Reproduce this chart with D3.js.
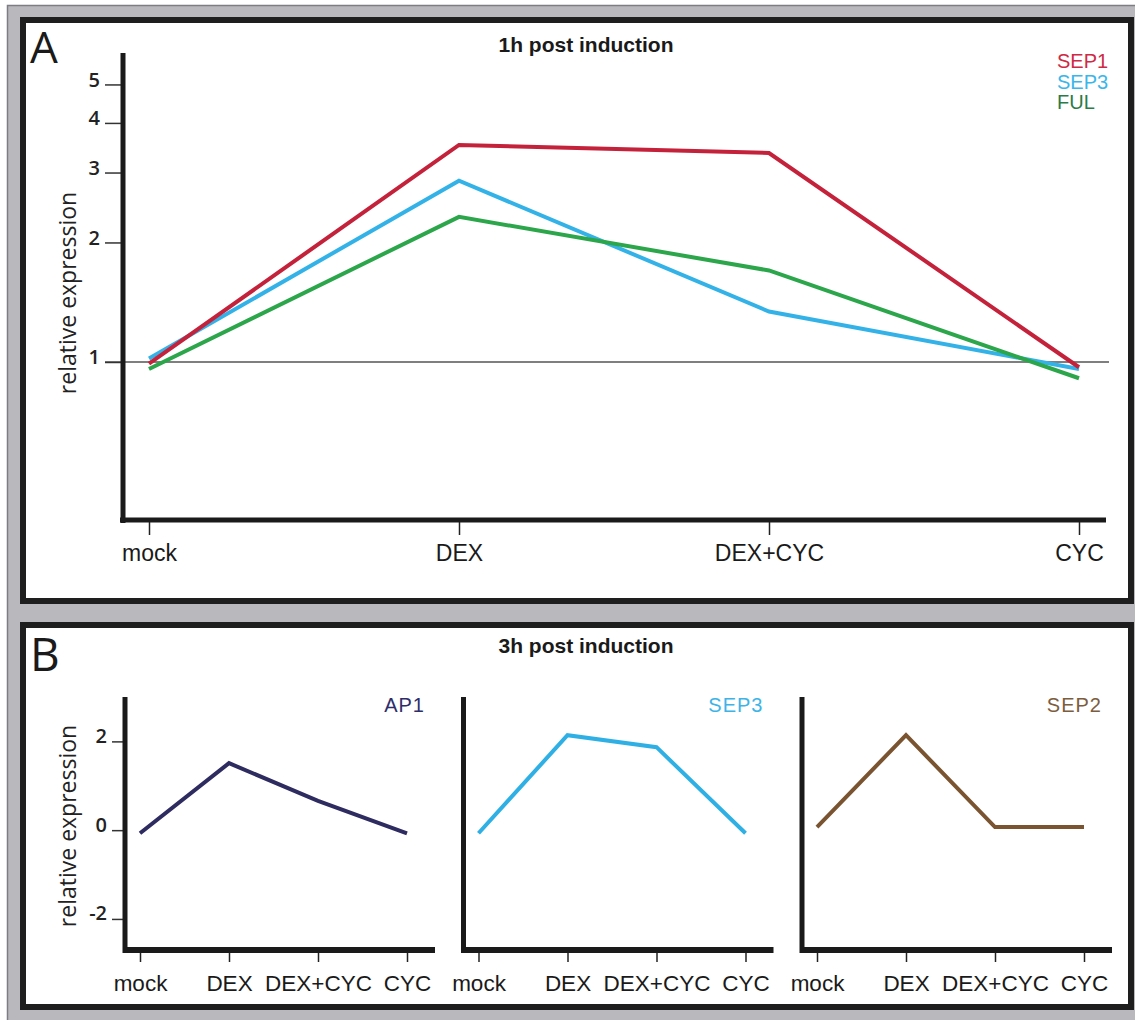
<!DOCTYPE html>
<html>
<head>
<meta charset="utf-8">
<script src="https://cdn.jsdelivr.net/npm/d3@7"></script>
<style>
  body { margin: 0; background: #fff; }
  svg { display: block; }
</style>
</head>
<body>
<svg id="chart"></svg>
<script>
// Data
const conditions = ['mock', 'DEX', 'DEX+CYC', 'CYC'];

// Panel A: 1h post induction (log scale)
const genes1h = ['SEP1', 'SEP3', 'FUL'];
const sep1_1h = [0.99, 3.52, 3.36, 0.97];
const sep3_1h = [1.02, 2.86, 1.34, 0.96];
const ful_1h  = [0.96, 2.32, 1.70, 0.91];
const ticks1h = [1, 2, 3, 4, 5];

// Panel B: 3h post induction
const genes3h = ['AP1', 'SEP3', 'SEP2'];
const ap1_3h  = [-0.07, 1.51, 0.66, -0.07];
const sep3_3h = [-0.07, 2.14, 1.87, -0.07];
const sep2_3h = [0.07, 2.14, 0.07, 0.07];
const ticks3h = [-2, 0, 2];

const colors1h = { SEP1: '#c4213a', SEP3: '#33b2e8', FUL: '#2ca64a' };
const legendColors = { SEP1: '#cf2a44', SEP3: '#3ab6ea', FUL: '#2b7b46' };
const colors3h = { AP1: '#2d2b5f', SEP3: '#2fb0e5', SEP2: '#7a5430' };
const labelColors3h = { AP1: '#2e2d6a', SEP3: '#3cb4e8', SEP2: '#7d5d3e' };

const W = 1135, H = 1020;
const svg = d3.select('#chart').attr('width', W).attr('height', H);

const sans = 'Liberation Sans, Arial, sans-serif';
const myriad = '"Open Sans", "Noto Sans", sans-serif';
const plain = d => String(d);

// Background frame
svg.append('rect')
  .attr('x', 7.5).attr('y', 5.5).attr('width', W).attr('height', H)
  .attr('fill', '#b9b9bd').attr('stroke', '#7e7e82').attr('stroke-width', 1.5);

// Panel boxes
svg.append('rect')
  .attr('x', 23).attr('y', 20).attr('width', 1108).attr('height', 581)
  .attr('fill', '#fff').attr('stroke', '#1e1e1e').attr('stroke-width', 6);
svg.append('rect')
  .attr('x', 23).attr('y', 625).attr('width', 1108).attr('height', 382)
  .attr('fill', '#fff').attr('stroke', '#1e1e1e').attr('stroke-width', 6);

// ═══════════════════════════════════════════════════════════
// Panel A
// ═══════════════════════════════════════════════════════════
const gA = svg.append('g');

gA.append('text')
  .attr('x', 30).attr('y', 63)
  .attr('font-family', myriad).attr('font-size', 44)
  .attr('fill', '#1a1a1a').text('A');

gA.append('text')
  .attr('x', 586).attr('y', 52).attr('text-anchor', 'middle')
  .attr('font-family', sans).attr('font-weight', 'bold').attr('font-size', 21)
  .attr('fill', '#1a1a1a').text('1h post induction');

const xA = d3.scalePoint().domain(conditions).range([149, 1079]);
const yA = d3.scaleLog().domain([0.4, 6]).range([520, 53]);

// reference line at 1
gA.append('line')
  .attr('x1', 105).attr('x2', 1109)
  .attr('y1', yA(1)).attr('y2', yA(1))
  .attr('stroke', '#555').attr('stroke-width', 1.5);

// y ticks
gA.append('g').attr('transform', 'translate(121,0)')
  .call(d3.axisLeft(yA).tickValues(ticks1h).tickFormat(plain).tickSize(16).tickPadding(5))
  .call(ax => ax.select('.domain').remove())
  .call(ax => ax.selectAll('line').attr('stroke', '#333').attr('stroke-width', 1.5))
  .call(ax => ax.selectAll('text')
    .attr('font-family', myriad).attr('font-weight', 600).attr('font-size', 20)
    .attr('fill', '#222').attr('dy', '0.1em'));

// x ticks
gA.append('g').attr('transform', 'translate(0,522)')
  .call(d3.axisBottom(xA).tickSize(13).tickPadding(10))
  .call(ax => ax.select('.domain').remove())
  .call(ax => ax.selectAll('line').attr('stroke', '#222').attr('stroke-width', 1.5))
  .call(ax => ax.selectAll('text')
    .attr('font-family', sans).attr('font-size', 23).attr('fill', '#1a1a1a'));

// axes
gA.append('line').attr('x1', 123).attr('x2', 123).attr('y1', 53).attr('y2', 523)
  .attr('stroke', '#1a1a1a').attr('stroke-width', 5);
gA.append('line').attr('x1', 120).attr('x2', 1106).attr('y1', 520).attr('y2', 520)
  .attr('stroke', '#1a1a1a').attr('stroke-width', 5);

gA.append('text')
  .attr('transform', 'translate(76,293) rotate(-90)')
  .attr('text-anchor', 'middle')
  .attr('font-family', myriad).attr('font-size', 23).attr('fill', '#222')
  .text('relative expression');

const series1h = [
  { gene: 'SEP3', values: sep3_1h },
  { gene: 'FUL', values: ful_1h },
  { gene: 'SEP1', values: sep1_1h }
];
const lineA = d3.line().x((d, i) => xA(conditions[i])).y(d => yA(d));
gA.selectAll('path.series')
  .data(series1h)
  .join('path')
  .attr('class', 'series')
  .attr('d', s => lineA(s.values))
  .attr('fill', 'none')
  .attr('stroke', s => colors1h[s.gene])
  .attr('stroke-width', 4);

// legend
gA.selectAll('text.legend')
  .data(genes1h)
  .join('text')
  .attr('class', 'legend')
  .attr('x', 1057).attr('y', (d, i) => 68 + i * 20.5)
  .attr('font-family', sans).attr('font-size', 20)
  .attr('fill', d => legendColors[d])
  .text(d => d);

// ═══════════════════════════════════════════════════════════
// Panel B
// ═══════════════════════════════════════════════════════════
const gB = svg.append('g');

gB.append('text')
  .attr('x', 30).attr('y', 671)
  .attr('font-family', myriad).attr('font-size', 46)
  .attr('fill', '#1a1a1a').text('B');

gB.append('text')
  .attr('x', 586).attr('y', 653).attr('text-anchor', 'middle')
  .attr('font-family', sans).attr('font-weight', 'bold').attr('font-size', 21)
  .attr('fill', '#1a1a1a').text('3h post induction');

const yB = d3.scaleLinear().domain([-2.7, 3]).range([950, 697]);
const panelX = d3.scaleLinear().domain([0, 2]).range([125, 802]);
const series3h = [
  { gene: 'AP1', values: ap1_3h },
  { gene: 'SEP3', values: sep3_3h },
  { gene: 'SEP2', values: sep2_3h }
];

series3h.forEach((s, i) => {
  const x0 = panelX(i);
  const g = gB.append('g');
  const xB = d3.scalePoint().domain(conditions).range([x0 + 15, x0 + 282]);

  if (i === 0) {
    g.append('g').attr('transform', `translate(${x0 - 2},0)`)
      .call(d3.axisLeft(yB).tickValues(ticks3h).tickFormat(plain).tickSize(11).tickPadding(5))
      .call(ax => ax.select('.domain').remove())
      .call(ax => ax.selectAll('line').attr('stroke', '#333').attr('stroke-width', 1.5))
      .call(ax => ax.selectAll('text')
        .attr('font-family', myriad).attr('font-weight', 600).attr('font-size', 20)
        .attr('fill', '#222').attr('dy', '0.05em'));

    g.append('text')
      .attr('transform', 'translate(76,826) rotate(-90)')
      .attr('text-anchor', 'middle')
      .attr('font-family', myriad).attr('font-size', 23).attr('fill', '#222')
      .text('relative expression');
  }

  g.append('g').attr('transform', 'translate(0,952)')
    .call(d3.axisBottom(xB).tickSize(10).tickPadding(13))
    .call(ax => ax.select('.domain').remove())
    .call(ax => ax.selectAll('line').attr('stroke', '#222').attr('stroke-width', 1.5))
    .call(ax => ax.selectAll('text')
      .attr('font-family', sans).attr('font-size', 22.5).attr('fill', '#1a1a1a'));

  g.append('line').attr('x1', x0).attr('x2', x0).attr('y1', 697).attr('y2', 953)
    .attr('stroke', '#1a1a1a').attr('stroke-width', 5);
  g.append('line').attr('x1', x0 - 2).attr('x2', x0 + 310).attr('y1', 950).attr('y2', 950)
    .attr('stroke', '#1a1a1a').attr('stroke-width', 6);

  const lineB = d3.line().x((d, j) => xB(conditions[j])).y(d => yB(d));
  g.append('path')
    .attr('d', lineB(s.values))
    .attr('fill', 'none')
    .attr('stroke', colors3h[s.gene])
    .attr('stroke-width', 4);

  g.append('text')
    .attr('x', x0 + 300).attr('y', 712).attr('text-anchor', 'end')
    .attr('font-family', sans).attr('font-size', 20).attr('letter-spacing', 1)
    .attr('fill', labelColors3h[s.gene])
    .text(s.gene);
});
</script>
</body>
</html>
